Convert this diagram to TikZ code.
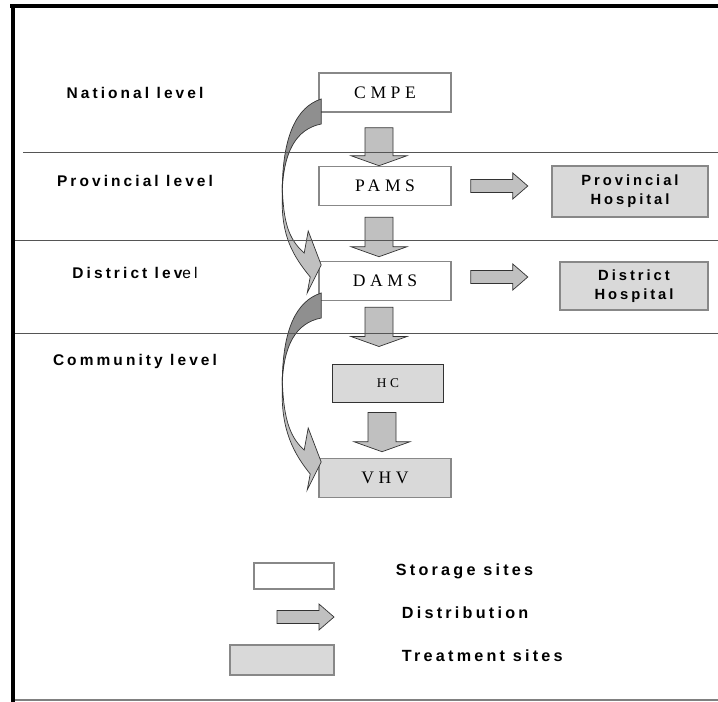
\documentclass[tikz,border=0pt]{standalone}
\usepackage{fontspec}
\setmainfont{Liberation Serif}
\newfontfamily\lvlfont[LetterSpace=20]{Liberation Sans}
\newfontfamily\boxfont[LetterSpace=26]{Liberation Serif}
\usetikzlibrary{calc}

\definecolor{arrowgray}{HTML}{C0C0C0}
\definecolor{darkarrow}{HTML}{8F8F8F}
\definecolor{treatgray}{HTML}{D9D9D9}
\definecolor{edgegray}{HTML}{888888}
\definecolor{rulegray}{HTML}{555555}

\tikzset{
  storebox/.style={draw=edgegray, line width=1.1pt, fill=white, inner sep=0pt,
    minimum width=3.3cm, minimum height=0.975cm, font=\boxfont\fontsize{12.5}{14}\selectfont},
  treatbox/.style={storebox, fill=treatgray},
  hospbox/.style={treatbox, align=center, font=\lvlfont\bfseries\fontsize{10.5}{13.5}\selectfont},
  lvl/.style={font=\lvlfont\bfseries\fontsize{11}{13}\selectfont},
  legtext/.style={anchor=west, font=\lvlfont\bfseries\fontsize{11.5}{13}\selectfont},
  blockarrow/.style={fill=arrowgray, draw=black!80, line width=0.5pt, line join=miter},
}

% down block arrow: from node, to node, gap below first, gap above second
\newcommand\dnarrow[4]{%
  \coordinate (t) at ($(#1.south)+(-6,#3)$);
  \coordinate (p) at ($(t |- #2.north)+(0,-#4)$);
  \draw[blockarrow] ($(t)+(-14,0)$) -- ($(t)+(14,0)$) -- ($(p)+(14,-10)$)
    -- ($(p)+(28,-10)$) -- (p) -- ($(p)+(-28,-10)$) -- ($(p)+(-14,-10)$) -- cycle;
}
% right block arrow starting at a point
\newcommand\rtarrow[1]{%
  \draw[blockarrow] ($#1+(0,-6.5)$) -- ++(42,0) -- ++(0,-6.5) -- ++(15,13)
    -- ++(-15,13) -- ++(0,-6.5) -- ++(-42,0) -- cycle;
}
% bent arrow on the left, skipping one level
\newcommand\bendarrow[3]{%
  \coordinate (ca) at (#1.west);
  \coordinate (cb) at (#2.west);
  \coordinate (cm) at ($(ca)!0.5!(cb)+(-36,0)$);
  \draw[blockarrow] ($(cm)+(0,-2)$) .. controls ($(cm)+(1,35)$) and ($(cb)+(-30,-42)$) .. ($(cb)+(-14,-28)$)
    -- ($(cb)+(-10,-50)$) -- ($(cb)+(3,-16)$) -- ($(cb)+(-11,12)$) -- ($(cb)+(-8,-4)$)
    .. controls ($(cb)+(-25,-25)$) and ($(cm)+(-1,50)$) .. ($(cm)+(0,10)$) -- cycle;
  \draw[blockarrow, fill=darkarrow] ($(ca)+(3,#3)$) .. controls ($(ca)+(-22,#3+8)$) and ($(cm)+(0,-50)$) .. ($(cm)+(0,6)$)
    .. controls ($(cm)+(1,-35)$) and ($(ca)+(-22,#3+30)$) .. ($(ca)+(3,#3+25)$) -- cycle;
}

\begin{document}
\begin{tikzpicture}[x=0.025cm, y=-0.025cm]
  \useasboundingbox (0,0) rectangle (718,702);

  % levels
  \node[lvl] (national) at (135,92.5) {National level};
  \node[lvl] (provincial) at (135,180.5) {Provincial level};
  \node[lvl] (district) at (135,272.5) {District lev{\mdseries el}};
  \node[lvl] (community) at (135,361) {Community level};

  % sites
  \node[storebox] (cmpe) at (385,92.5) {CMPE};
  \node[storebox] (pams) at (385,186) {PAMS};
  \node[storebox] (dams) at (385,281) {DAMS};
  \node[treatbox, draw=black!80, line width=0.7pt, minimum width=2.75cm, minimum height=0.95cm,
    font=\boxfont\fontsize{9.5}{11}\selectfont] (hc) at (388,383) {HC};
  \node[treatbox] (vhv) at (385,478) {VHV};
  \node[hospbox, minimum width=3.9cm, minimum height=1.275cm] (provhosp) at (630,191.5) {Provincial\\Hospital};
  \node[hospbox, minimum width=3.7cm, minimum height=1.2cm] (disthosp) at (634,286) {District\\Hospital};

  % distribution
  \dnarrow{cmpe}{pams}{15}{0}
  \dnarrow{pams}{dams}{11}{4}
  \dnarrow{dams}{hc}{6}{17}
  \dnarrow{hc}{vhv}{10}{6}
  \rtarrow{($(pams.east)+(19,0)$)}
  \rtarrow{($(dams.east)+(19,-4)$)}
  \bendarrow{cmpe}{dams}{6.5}
  \bendarrow{dams}{vhv}{12}

  % legend
  \node[storebox, minimum width=2cm, minimum height=0.65cm] (legstore) at (294,576) {};
  \coordinate (legarrow) at (277,617);
  \rtarrow{(legarrow)}
  \node[treatbox, minimum width=2.6cm, minimum height=0.75cm] (legtreat) at (282,660) {};
  \node[legtext] (storetxt) at (391,571) {Storage sites};
  \node[legtext] (disttxt) at (397,613) {Distribution};
  \node[legtext] (treattxt) at (397,656) {Treatment sites};

  % rules and frame
  \draw[rulegray, line width=0.7pt] (23,152) -- (718,152);
  \draw[rulegray, line width=0.7pt] (13,240) -- (718,240);
  \draw[rulegray, line width=0.7pt] (13,333) -- (718,333);
  \draw[gray, line width=0.8pt] (13,700) -- (718,700);
  \draw[line width=2.5pt] (10,6) -- (718,6);
  \draw[line width=3.4pt] (13,5) -- (13,702);
\end{tikzpicture}
\end{document}
